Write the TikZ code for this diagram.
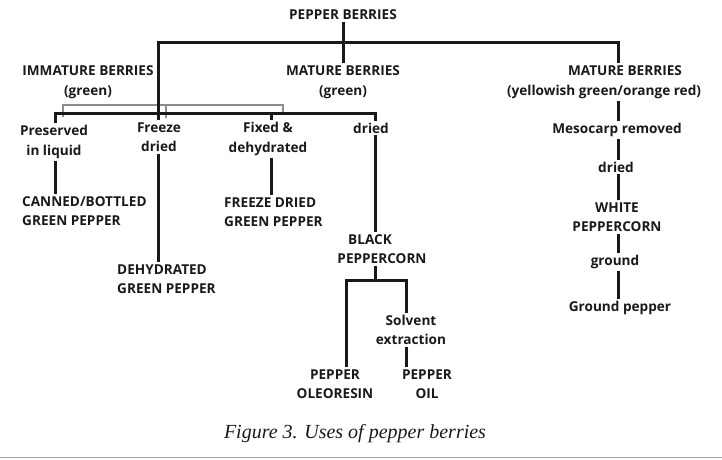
\documentclass[tikz,border=0pt]{standalone}
\usepackage{fontspec}
\setmainfont{Open Sans}
\newfontfamily\capfont{Liberation Serif}
\usetikzlibrary{calc}
\begin{document}
\begin{tikzpicture}[x=1pt,y=-1pt,
  lbl/.style={font=\fontsize{13.6}{19.5}\selectfont\bfseries, align=center, inner xsep=1pt, inner ysep=2pt, text=black!90},
  lbll/.style={lbl, align=left, anchor=west},
  conn/.style={draw=black!90, line width=3pt},
  brk/.style={draw=black!45, line width=1.5pt}]
\useasboundingbox (0,0) rectangle (722,459);
% nodes
\node[lbl] (pb) at (343,15) {PEPPER BERRIES};
\node[lbl] (imm) at (88,82) {IMMATURE BERRIES\\(green)};
\node[lbl] (mat) at (343,82) {MATURE BERRIES\\(green)};
\node[lbl] (matr) at (604,82) {\hspace*{42pt}MATURE BERRIES\\(yellowish green/orange red)};
\node[lbl] (meso) at (617,130) {Mesocarp removed};
\node[lbl] (wdried) at (616,167) {dried};
\node[lbl] (white) at (617,217) {WHITE\\PEPPERCORN};
\node[lbl] (ground) at (615,262) {ground};
\node[lbl] (gp) at (620,308) {Ground pepper};
\node[lbl] (pres) at (54,142) {Preserved\\in liquid};
\node[lbl] (frz) at (159,137) {Freeze\\dried};
\node[lbl] (fix) at (268,139) {Fixed \&\\dehydrated};
\node[lbl] (dri) at (371,128) {dried};
\node[lbll] (canned) at (21,211) {CANNED/BOTTLED\\GREEN PEPPER};
\node[lbll] (dehyd) at (116,279) {DEHYDRATED\\GREEN PEPPER};
\node[lbll] (fdgp) at (223,212) {FREEZE DRIED\\GREEN PEPPER};
\node[lbl] (black) at (382,249) {BLACK\hspace*{24pt}\\PEPPERCORN};
\node[lbl] (solv) at (411,330) {Solvent\\extraction};
\node[lbl] (oleo) at (335,384) {PEPPER\\OLEORESIN};
\node[lbl] (oil) at (427,384) {PEPPER\\OIL};
\node[font=\capfont\itshape\fontsize{20}{22}\selectfont, text=black!90] (cap) at (355,434) {Figure 3. Uses of pepper berries};
% junction coordinates
\coordinate (c0) at (158,42);
\coordinate (c2) at (618,42);
\coordinate (m0) at (55,113);
\coordinate (m2) at (271,113);
\coordinate (m3) at (375,113);
\coordinate (b0) at (346,280);
\coordinate (b1) at (375,280);
\coordinate (b2) at (406,280);
\coordinate (g0) at (63,105);
\coordinate (g1) at (166,105);
\coordinate (g2) at (283,105);
% gray bracket
\draw[brk] ($(g0)+(0,12)$) -- (g0) -- (g2) -- ++(0,10);
\draw[brk] (g1) -- ++(0,13);
% connectors
\draw[conn] (pb.south) -- (mat.north);
\draw[conn] (c0 |- frz.north) -- (c0) -- (c2) -- (c2 |- matr.north);
\draw[conn] (m0 |- pres.north) -- (m0) -- (m3) -- (m3 |- dri.north);
\draw[conn] (m2) -- (m2 |- fix.north);
\draw[conn] (pres.south -| m0) -- (canned.north -| m0);
\draw[conn] (frz.south -| c0) -- (dehyd.north -| c0);
\draw[conn] (fix.south -| m2) -- (fdgp.north -| m2);
\draw[conn] (dri.south -| m3) -- (black.north -| m3);
\draw[conn] (black.south -| b1) -- (b1);
\draw[conn] (b0 |- oleo.north) -- (b0) -- (b2) -- (b2 |- solv.north);
\draw[conn] (solv.south -| b2) -- (oil.north -| b2);
\draw[conn] (matr.south -| c2) -- (meso.north -| c2);
\draw[conn] (meso.south -| c2) -- (wdried.north -| c2);
\draw[conn] (wdried.south -| c2) -- (white.north -| c2);
\draw[conn] (white.south -| c2) -- (ground.north -| c2);
\draw[conn] (ground.south -| c2) -- (gp.north -| c2);
% bottom rule
\draw[draw=black!35, line width=1.5pt] (0,457.5) -- (722,457.5);
\end{tikzpicture}
\end{document}
